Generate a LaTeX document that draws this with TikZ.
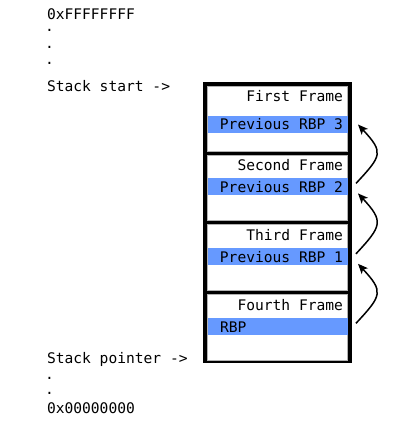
\documentclass[tikz,border=0pt]{standalone}
\usepackage{fontspec}
\setmonofont{DejaVu Sans Mono}
\usetikzlibrary{arrows.meta,calc}
\definecolor{barblue}{RGB}{102,153,255}
\begin{document}
\begin{tikzpicture}[x=1pt,y=-1pt,
  txt/.style={font=\ttfamily\fontsize{14.6}{16}\selectfont, inner sep=0pt, outer sep=0pt},
  lbl/.style={txt, anchor=base west},
  dotlbl/.style={txt, anchor=base},
  rtxt/.style={txt, anchor=base east},
  stackbox/.style={fill=black, inner sep=0pt, outer sep=0pt, minimum width=148.5pt, minimum height=281pt, anchor=north west},
  framebox/.style={fill=white, draw=gray!60, line width=0.8pt, inner sep=0pt, outer sep=0pt, minimum width=140pt, minimum height=65.4pt, anchor=north west},
  barbox/.style={fill=barblue, inner sep=0pt, outer sep=0pt, minimum width=140pt, minimum height=17pt, anchor=north west},
  link/.style={-{Stealth[length=10pt,width=8.5pt,inset=2.5pt]}, line width=1.5pt}
]
\useasboundingbox (0,0) rectangle (408,432);
% left labels
\node[lbl] (top) at (47,19.3) {0xFFFFFFFF};
\node[dotlbl] (d1) at (49.4,31.9) {.};
\node[dotlbl] (d2) at (49.4,48.3) {.};
\node[dotlbl] (d3) at (49.4,64.8) {.};
\node[lbl] (start) at (47,91.8) {Stack start ->};
\node[lbl] (sp) at (47,363.3) {Stack pointer ->};
\node[dotlbl] (d4) at (49.4,379.3) {.};
\node[dotlbl] (d5) at (49.4,394.3) {.};
\node[lbl] (bottom) at (47,413.3) {0x00000000};
% stack
\node[stackbox] (stack) at (203,82) {};
\node[framebox] (f1) at (207.3,86.2) {};
\node[framebox] (f2) at (207.3,155.3) {};
\node[framebox] (f3) at (207.3,224.5) {};
\node[framebox] (f4) at (207.3,294.5) {};
\node[barbox] (b1) at (207.5,115.7) {};
\node[barbox] (b2) at (207.5,177.9) {};
\node[barbox] (b3) at (207.5,248.3) {};
\node[barbox] (b4) at (207.5,318.3) {};
% texts
\node[rtxt] (t1) at (343,101.7) {First Frame};
\node[rtxt] (p1) at (343,129.3) {Previous RBP 3};
\node[rtxt] (t2) at (343,170.7) {Second Frame};
\node[rtxt] (p2) at (343,192.7) {Previous RBP 2};
\node[rtxt] (t3) at (343,240.7) {Third Frame};
\node[rtxt] (p3) at (343,262.7) {Previous RBP 1};
\node[rtxt] (t4) at (343,310.7) {Fourth Frame};
\node[lbl] (p4) at (220,332.7) {RBP};
% arrows
\coordinate (h1) at ($(b1.east)+(10.5,0.3)$);
\coordinate (s2) at ($(b2.east)+(8.5,-3)$);
\coordinate (h2) at ($(b2.east)+(10.5,7)$);
\coordinate (s3) at ($(b3.east)+(8.5,-3)$);
\coordinate (h3) at ($(b3.east)+(10.5,7)$);
\coordinate (s4) at ($(b4.east)+(8.5,-3.5)$);
\draw[link] (s2) .. controls ($(s2)+(26,-28)$) and ($(h1)+(26,28)$) .. (h1);
\draw[link] (s3) .. controls ($(s3)+(26,-28)$) and ($(h2)+(26,28)$) .. (h2);
\draw[link] (s4) .. controls ($(s4)+(26,-28)$) and ($(h3)+(26,28)$) .. (h3);
\end{tikzpicture}
\end{document}
